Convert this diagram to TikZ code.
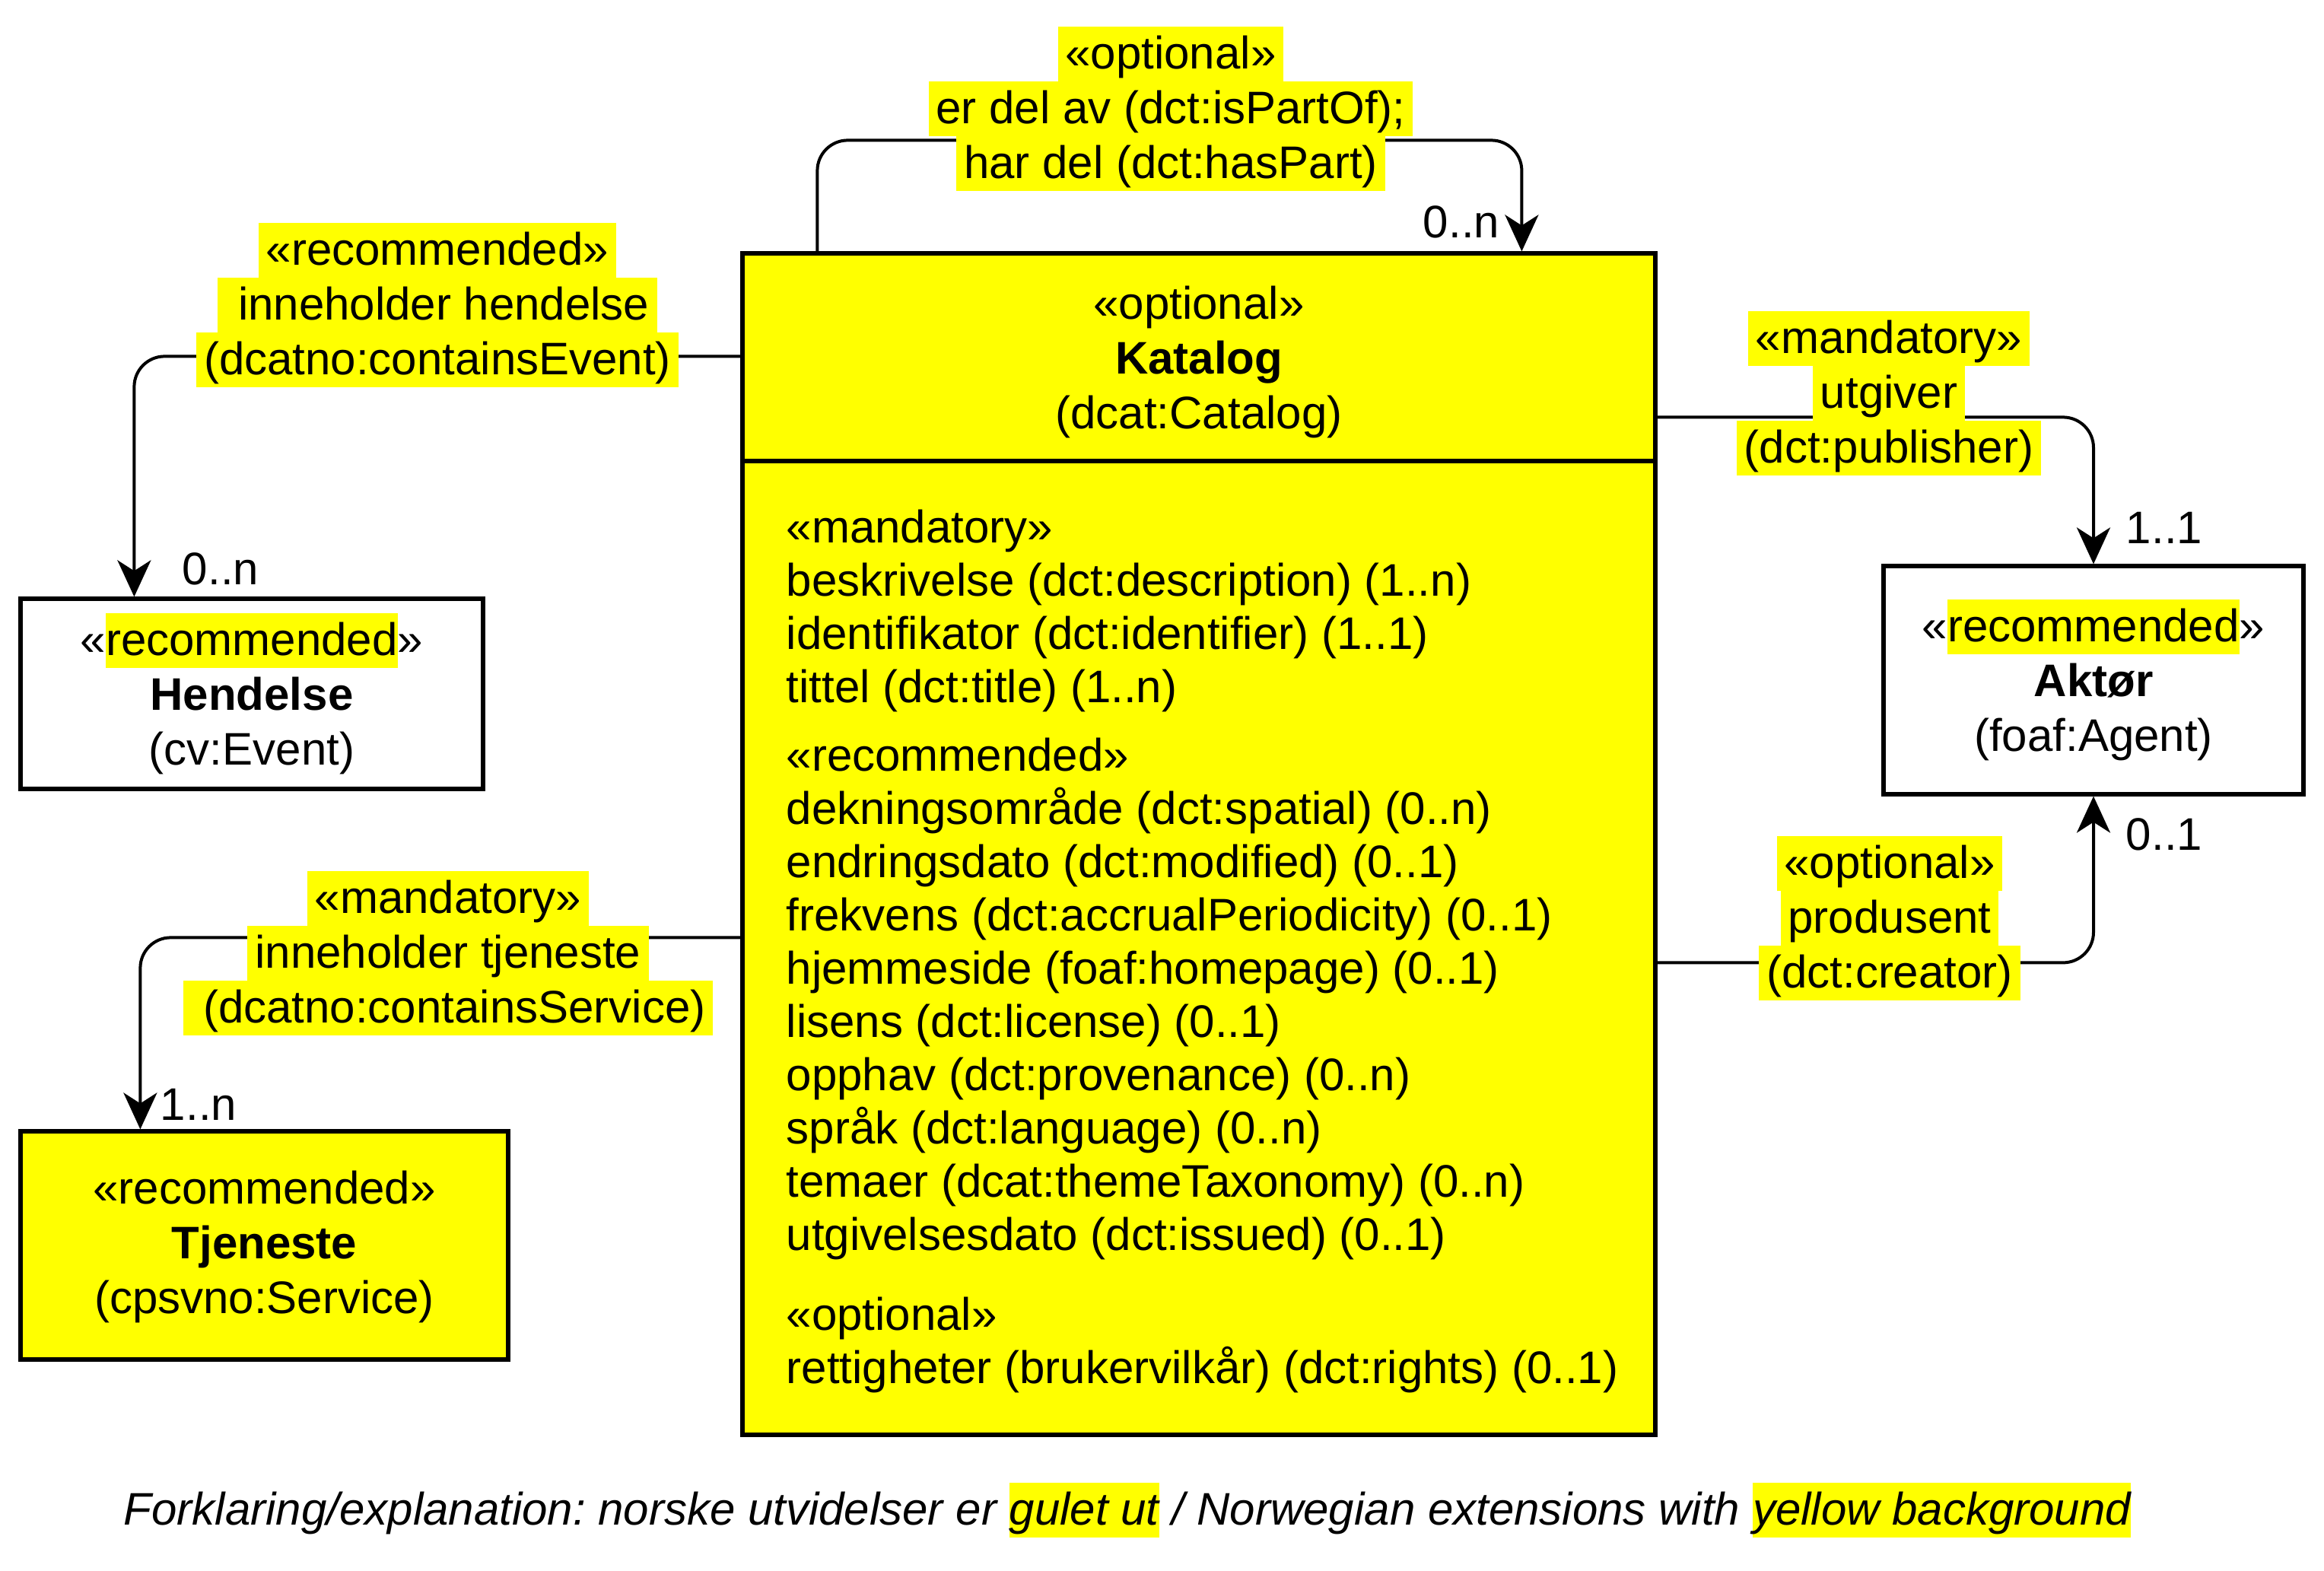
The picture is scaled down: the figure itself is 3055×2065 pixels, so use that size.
\documentclass[tikz,border=0pt]{standalone}
\usepackage{fontspec}
\setmainfont{Liberation Sans}
\usetikzlibrary{arrows.meta}
\frenchspacing
\definecolor{hly}{HTML}{FFFF00}
\newcommand\hlpad[1]{{\setlength{\fboxsep}{0pt}\colorbox{hly}{\rule[-4.2pt]{0pt}{18pt}\hspace{2.5pt}#1\hspace{2.5pt}}}}
\newcommand\hlnopad[1]{{\setlength{\fboxsep}{0pt}\colorbox{hly}{\rule[-4.2pt]{0pt}{18pt}#1}}}
\tikzset{
  umlbox/.style={draw, line width=1.3pt, align=center, inner sep=0pt,
    font=\fontsize{15pt}{18pt}\selectfont},
  conn/.style={line width=1pt, rounded corners=10pt,
    -{Stealth[length=12pt,width=11pt,inset=3.5pt]}},
  lbl/.style={align=center, inner sep=0pt, font=\fontsize{15pt}{18pt}\selectfont},
  mult/.style={inner sep=0pt, font=\fontsize{15pt}{18pt}\selectfont},
}
\begin{document}
\begin{tikzpicture}[x=0.25pt,y=-0.25pt]
\useasboundingbox (0,0) rectangle (3055,2065);

% Katalog
\node[umlbox, fill=hly, minimum width=300pt, minimum height=388.25pt] (katalog) at (1576,1109.5) {};
\coordinate (div) at (1576,606);
\draw[line width=1.3pt] (katalog.west |- div) -- (katalog.east |- div);
\node[lbl] (kathead) at (1576,476) {«optional»\\ \textbf{Katalog}\\ (dcat:Catalog)};
\node[anchor=north west, align=left, inner sep=0pt, font=\fontsize{15pt}{17.5pt}\selectfont] (katattr) at (1033,669) {%
«mandatory»\\
beskrivelse (dct:description) (1..n)\\
identifikator (dct:identifier) (1..1)\\
tittel (dct:title) (1..n)\\[5pt]
«recommended»\\
dekningsområde (dct:spatial) (0..n)\\
endringsdato (dct:modified) (0..1)\\
frekvens (dct:accrualPeriodicity) (0..1)\\
hjemmeside (foaf:homepage) (0..1)\\
lisens (dct:license) (0..1)\\
opphav (dct:provenance) (0..n)\\
språk (dct:language) (0..n)\\
temaer (dcat:themeTaxonomy) (0..n)\\
utgivelsesdato (dct:issued) (0..1)\\[8.75pt]
«optional»\\
rettigheter (brukervilkår) (dct:rights) (0..1)};

% Other classes
\node[umlbox, minimum width=152pt, minimum height=62.5pt] (hendelse) at (331,912)
  {«\hlnopad{recommended}»\\ \textbf{Hendelse}\\ (cv:Event)};
\node[umlbox, minimum width=138pt, minimum height=75pt] (aktor) at (2752,894)
  {«\hlnopad{recommended}»\\ \textbf{Aktør}\\ (foaf:Agent)};
\node[umlbox, fill=hly, minimum width=160.25pt, minimum height=75pt] (tjeneste) at (347.5,1637)
  {\rule{0pt}{12pt}«recommended»\\ \textbf{Tjeneste}\\ (cpsvno:Service)};

% Connectors
\draw[conn] ([xshift=25.25pt]katalog.north west) |- ([xshift=256.75pt,yshift=36.5pt]katalog.north west) -- ([xshift=256.75pt]katalog.north west);
\draw[conn] ([yshift=-34.5pt]katalog.north west) -| ([xshift=38pt]hendelse.north west);
\draw[conn] ([yshift=-225.5pt]katalog.north west) -| ([xshift=40pt]tjeneste.north west);
\draw[conn] ([yshift=-54.5pt]katalog.north east) -| (aktor.north);
\draw[conn] ([yshift=-233.75pt]katalog.north east) -| (aktor.south);

% Labels
\node[lbl] (lblpart) at (1539,143) {\hlpad{«optional»}\\ \hlpad{er del av (dct:isPartOf);}\\ \hlpad{har del (dct:hasPart)}};
\node[lbl] (lblevent) at (575,401) {\hlpad{«recommended»}\\ \hlpad{\ inneholder hendelse}\\ \hlpad{(dcatno:containsEvent)}};
\node[lbl] (lblservice) at (589,1253) {\hlpad{«mandatory»}\\ \hlpad{inneholder tjeneste}\\ \hlpad{\ (dcatno:containsService)}};
\node[lbl] (lblpub) at (2483,517) {\hlpad{«mandatory»}\\ \hlpad{utgiver}\\ \hlpad{(dct:publisher)}};
\node[lbl] (lblcreator) at (2484,1207) {\hlpad{«optional»}\\ \hlpad{produsent}\\ \hlpad{(dct:creator)}};

% Multiplicities
\node[mult] (m1) at (1921,292) {0..n};
\node[mult] (m2) at (290,748) {0..n};
\node[mult] (m3) at (261,1452) {1..n};
\node[mult] (m4) at (2845,694) {1..1};
\node[mult] (m5) at (2845,1097) {0..1};

% Legend
\node[inner sep=0pt, font=\fontsize{15pt}{18pt}\selectfont\itshape] (legend) at (1482,1985)
  {Forklaring/explanation: norske utvidelser er \hlnopad{gulet ut} / Norwegian extensions with \hlnopad{yellow background}};
\end{tikzpicture}
\end{document}
